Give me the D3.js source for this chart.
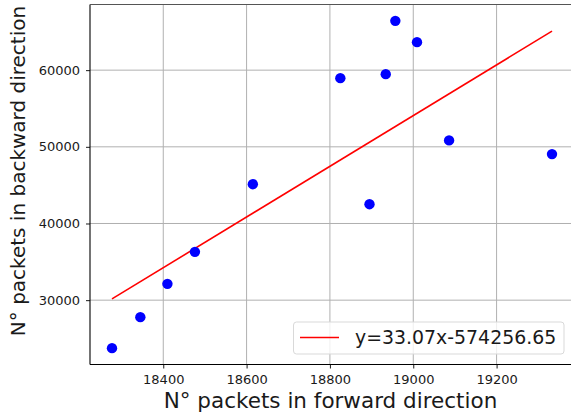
<!DOCTYPE html>
<html>
<head>
<meta charset="utf-8">
<script src="https://cdn.jsdelivr.net/npm/d3@7"></script>
<style>
body { margin:0; background:#fff; }
text { font-family: "DejaVu Sans", sans-serif; fill:#1a1a1a; }
</style>
</head>
<body>
<div id="chart"></div>
<script>
// packets forward / backward
var fwdPackets = [18277, 18345, 18410, 18476, 18615, 18825, 18895, 18934, 18957, 19009, 19086, 19333];
var bwdPackets = [23742, 27784, 32125, 36298, 45125, 58957, 42517, 59478, 66429, 63651, 50835, 49048];
var xTicks = [18400, 18600, 18800, 19000, 19200];
var yTicks = [30000, 40000, 50000, 60000];
var slope = 33.07, intercept = -574256.65;
var legendLabel = "y=33.07x-574256.65";

var W = 571, H = 417;
var margin = {left:90, top:4.5};
var width = 484, height = 360;

var svg = d3.select("#chart").append("svg").attr("width",W).attr("height",H);
var g = svg.append("g").attr("transform","translate("+margin.left+","+margin.top+")");

function padded(arr){
	var e = d3.extent(arr), m = (e[1]-e[0])*0.05;
	return [e[0]-m, e[1]+m];
}
var x = d3.scaleLinear().domain(padded(fwdPackets)).range([0,width]);
var y = d3.scaleLinear().domain(padded(bwdPackets)).range([height,0]);

// grid
g.append("g").selectAll("line").data(xTicks).enter().append("line")
	.attr("x1",function(d){return x(d)}).attr("x2",function(d){return x(d)})
	.attr("y1",0).attr("y2",height)
	.attr("stroke","#b0b0b0").attr("stroke-width",1);
g.append("g").selectAll("line").data(yTicks).enter().append("line")
	.attr("y1",function(d){return y(d)}).attr("y2",function(d){return y(d)})
	.attr("x1",0).attr("x2",width)
	.attr("stroke","#b0b0b0").attr("stroke-width",1);

// axes
var xAxis = g.append("g").attr("transform","translate(0,"+height+")")
	.call(d3.axisBottom(x).tickValues(xTicks).tickSize(4).tickPadding(6).tickFormat(d3.format("d")));
var yAxis = g.append("g")
	.call(d3.axisLeft(y).tickValues(yTicks).tickSize(4).tickPadding(6).tickFormat(d3.format("d")));
[xAxis,yAxis].forEach(function(a){
	a.select(".domain").remove();
	a.selectAll("line").attr("stroke","#000").attr("stroke-width",0.9);
	a.selectAll("text").style("font-family","DejaVu Sans").style("font-size","13px").attr("fill","#1a1a1a");
});

// spines
g.append("line").attr("x1",0).attr("x2",0).attr("y1",0).attr("y2",height).attr("stroke","#000").attr("stroke-width",1.1);
g.append("line").attr("x1",0).attr("x2",width).attr("y1",height).attr("y2",height).attr("stroke","#000").attr("stroke-width",1.1);
g.append("line").attr("x1",0).attr("x2",width).attr("y1",0).attr("y2",0).attr("stroke","#555").attr("stroke-width",1.1);
g.append("line").attr("x1",width).attr("x2",width).attr("y1",0).attr("y2",height).attr("stroke","#000").attr("stroke-width",1.1);

// regression line
var xe = d3.extent(fwdPackets);
g.append("line")
	.attr("x1",x(xe[0])).attr("y1",y(slope*xe[0]+intercept))
	.attr("x2",x(xe[1])).attr("y2",y(slope*xe[1]+intercept))
	.attr("stroke","#ff0000").attr("stroke-width",1.6);

// points
g.append("g").selectAll("circle").data(fwdPackets).enter().append("circle")
	.attr("cx",function(d){return x(d)})
	.attr("cy",function(d,i){return y(bwdPackets[i])})
	.attr("r",5.2)
	.attr("fill","#0000ff");

// legend
var lg = svg.append("g").attr("transform","translate(293.5,322)");
lg.append("rect").attr("width",270.5).attr("height",32).attr("rx",3)
	.attr("fill","#fff").attr("fill-opacity",0.8).attr("stroke","#d9d9d9").attr("stroke-width",1);
lg.append("line").attr("x1",6.5).attr("x2",45.5).attr("y1",15.5).attr("y2",15.5)
	.attr("stroke","#ff0000").attr("stroke-width",1.6);
lg.append("text").attr("x",61.5).attr("y",22).style("font-size","18.9px").text(legendLabel);

// axis labels
svg.append("text").attr("x",330.5).attr("y",408).attr("text-anchor","middle")
	.style("font-size","21.5px").text("N° packets in forward direction");
svg.append("text").attr("transform","translate(25,171) rotate(-90)").attr("text-anchor","middle")
	.style("font-size","20px").text("N° packets in backward direction");
</script>
</body>
</html>
